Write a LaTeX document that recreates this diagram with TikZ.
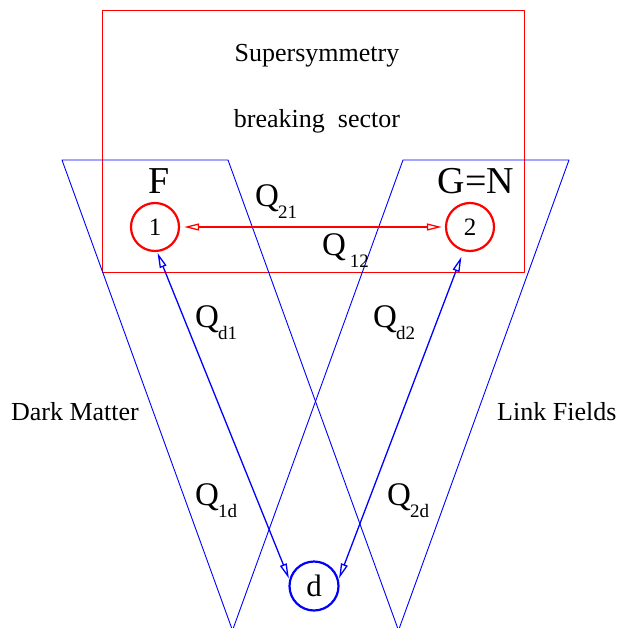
\documentclass[tikz,border=0pt]{standalone}
\usepackage{fontspec}
\setmainfont{Liberation Serif}
\usetikzlibrary{arrows.meta}
\tikzset{
  >={Triangle[open,length=15pt,width=7pt]},
  every picture/.style={line cap=round, line join=round},
  sector/.style={draw=red, line width=0.9pt},
  wedge/.style={draw=blue, line width=0.9pt},
  field/.style={circle, draw=#1, line width=2.2pt, inner sep=0pt,
    minimum size=48pt, font=\fontsize{25}{25}\selectfont},
  redarr/.style={<->, draw=red, line width=1.3pt},
  bluarr/.style={<->, draw=blue, line width=1.3pt},
  lbl/.style={inner sep=0pt, anchor=base, font=\fontsize{26}{26}\selectfont},
  big/.style={inner sep=0pt, anchor=base, font=\fontsize{38}{38}\selectfont},
  qlbl/.style={inner sep=0pt, anchor=base west, font=\fontsize{33}{33}\selectfont},
}
\newcommand{\qsub}[1]{Q\kern-1pt\raisebox{-12pt}{\fontsize{19}{19}\selectfont #1}}

\begin{document}
\begin{tikzpicture}[x=1pt,y=-1pt]
  \useasboundingbox (0,0) rectangle (619,628);
  % =================== sectors ===================
  \draw[sector] (102,10) rectangle (524,272);
  \draw[wedge] (236,640) -- (62,160) -- (228,160) -- (402,640);
  \draw[wedge] (229,640) -- (403,160) -- (569,160) -- (395,640);
  \node[lbl] (susy) at (317,62) {Supersymmetry};
  \node[lbl] (brk) at (317,128) {breaking~~sector};
  \node[lbl] (dm) at (75,420) {Dark Matter};
  \node[lbl, anchor=base west] (lf) at (497,420) {Link Fields};

  % =================== fields ===================
  \node[big] (F) at (159,194) {F};
  \node[big] (GN) at (476,194) {G=N};
  \node[field=red] (n1) at (155,227) {1};
  \node[field=red] (n2) at (470,227) {2};
  \node[field=blue, minimum size=49pt, font=\fontsize{31}{31}\selectfont] (nd) at (314,586) {d};

  % =================== charges ===================
  \draw[redarr, shorten <=4pt, shorten >=3pt] (n1.east) -- (n2.west);
  \draw[bluarr, shorten <=1pt, shorten >=1pt] (n1.-85) -- (nd.165);
  \draw[bluarr, shorten <=6pt, shorten >=1pt] (n2.-105) -- (nd.15);
  \node[qlbl] (q21) at (255,207) {\qsub{21}};
  \node[qlbl] (q12) at (322,255) {\qsub{~12}};
  \node[qlbl] (qd1) at (195,327) {\qsub{d1}};
  \node[qlbl] (qd2) at (373,327) {\qsub{d2}};
  \node[qlbl] (q1d) at (195,505) {\qsub{1d}};
  \node[qlbl] (q2d) at (387,505) {\qsub{2d}};
\end{tikzpicture}
\end{document}
